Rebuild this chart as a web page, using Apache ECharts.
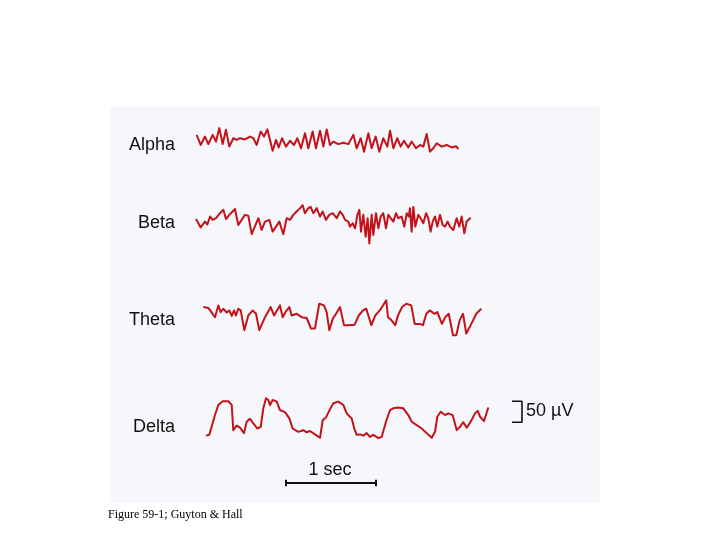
<!DOCTYPE html>
<html><head><meta charset="utf-8">
<script src="https://cdn.jsdelivr.net/npm/echarts/dist/echarts.min.js"></script>
<style>html,body{margin:0;padding:0;background:#fff}#c{width:720px;height:540px}</style>
</head><body><div id="c"></div>
<script>
// EEG rhythm traces: [time (s), potential (µV)]
const rhythmNames = ['Alpha', 'Beta', 'Theta', 'Delta'];
const alphaTrace = [[0.007,17],[0.052,-7],[0.100,13],[0.137,-5],[0.185,17],[0.222,1],[0.259,33],[0.296,-5],[0.333,29],[0.370,-11],[0.415,9],[0.452,5],[0.489,9],[0.544,6],[0.600,13],[0.637,9],[0.674,-7],[0.719,25],[0.756,13],[0.793,30],[0.852,-21],[0.889,5],[0.919,-13],[0.956,9],[1.000,-11],[1.044,3],[1.089,-7],[1.126,9],[1.167,-15],[1.211,21],[1.248,-15],[1.296,25],[1.333,-15],[1.378,27],[1.415,-11],[1.452,30],[1.489,-7],[1.526,1],[1.581,-5],[1.637,-2],[1.693,-5],[1.748,17],[1.785,-15],[1.830,9],[1.867,-23],[1.915,21],[1.952,-15],[1.996,13],[2.037,-23],[2.081,9],[2.126,-11],[2.156,27],[2.193,-15],[2.237,9],[2.274,-11],[2.311,3],[2.359,-13],[2.396,1],[2.444,-15],[2.489,-7],[2.526,-11],[2.563,19],[2.600,-23],[2.637,-15],[2.674,-3],[2.730,-11],[2.785,-7],[2.841,-13],[2.889,-10],[2.915,-17]];
const betaTrace = [[0,7],[0.052,-13],[0.100,1],[0.126,-6],[0.156,13],[0.185,5],[0.222,9],[0.267,21],[0.304,29],[0.333,7],[0.370,17],[0.407,25],[0.433,31],[0.470,-7],[0.507,5],[0.544,17],[0.581,15],[0.619,-29],[0.693,9],[0.730,-19],[0.767,1],[0.815,5],[0.852,-23],[0.889,-11],[0.926,1],[0.970,-29],[1.007,9],[1.044,5],[1.081,17],[1.119,25],[1.156,33],[1.185,40],[1.211,21],[1.248,33],[1.274,36],[1.304,21],[1.341,33],[1.378,13],[1.407,25],[1.444,5],[1.481,17],[1.519,21],[1.563,9],[1.600,25],[1.630,17],[1.656,5],[1.693,1],[1.711,-11],[1.741,-3],[1.767,-15],[1.793,17],[1.815,29],[1.833,-23],[1.859,17],[1.885,-35],[1.907,9],[1.926,-51],[1.952,17],[1.970,-31],[2.000,21],[2.026,-15],[2.052,13],[2.081,21],[2.111,-15],[2.137,17],[2.156,13],[2.193,1],[2.222,21],[2.248,9],[2.285,13],[2.315,-11],[2.341,21],[2.363,13],[2.378,33],[2.396,-23],[2.415,36],[2.437,-11],[2.470,17],[2.496,9],[2.526,-3],[2.556,21],[2.581,9],[2.607,-23],[2.630,1],[2.656,13],[2.681,-11],[2.711,17],[2.741,-7],[2.767,-11],[2.796,1],[2.822,-11],[2.859,-19],[2.896,9],[2.926,-11],[2.952,13],[2.981,-27],[3.007,1],[3.052,10]];
const thetaTrace = [[0.081,26],[0.137,24],[0.211,2],[0.248,30],[0.274,14],[0.303,22],[0.341,13],[0.370,18],[0.397,5],[0.422,18],[0.444,6],[0.470,22],[0.497,18],[0.537,-29],[0.581,6],[0.630,18],[0.667,10],[0.703,-29],[0.767,2],[0.830,26],[0.867,6],[0.933,30],[0.963,2],[1.000,16],[1.037,26],[1.063,6],[1.119,10],[1.174,2],[1.230,0],[1.278,-25],[1.322,-25],[1.370,34],[1.422,30],[1.452,14],[1.481,-29],[1.519,-2],[1.556,10],[1.600,26],[1.644,-17],[1.689,-17],[1.763,-16],[1.808,6],[1.856,18],[1.892,22],[1.948,-17],[1.992,6],[2.041,18],[2.114,42],[2.133,2],[2.170,-5],[2.214,-17],[2.244,6],[2.289,26],[2.337,34],[2.392,30],[2.430,-14],[2.486,-14],[2.522,-17],[2.559,10],[2.597,18],[2.652,10],[2.681,14],[2.733,-14],[2.770,2],[2.808,10],[2.856,-41],[2.892,-41],[2.930,-5],[2.967,10],[3.003,-37],[3.059,-14],[3.114,10],[3.170,22]];
const deltaTrace = [[0.111,-42],[0.148,-40],[0.211,7],[0.248,31],[0.297,40],[0.359,40],[0.397,31],[0.414,-29],[0.452,-18],[0.489,-23],[0.533,-36],[0.563,-9],[0.600,-2],[0.637,-13],[0.681,-25],[0.719,-21],[0.748,23],[0.778,47],[0.803,43],[0.822,31],[0.852,43],[0.897,39],[0.933,19],[0.989,14],[1.037,-1],[1.074,-25],[1.137,-33],[1.192,-29],[1.230,-34],[1.267,-31],[1.322,-39],[1.378,-47],[1.408,-5],[1.444,1],[1.489,21],[1.526,35],[1.581,39],[1.637,31],[1.674,11],[1.730,-1],[1.759,-25],[1.786,-40],[1.822,-39],[1.859,-42],[1.897,-36],[1.933,-45],[1.970,-40],[2.026,-48],[2.063,-45],[2.111,-9],[2.156,19],[2.192,23],[2.248,25],[2.303,23],[2.359,7],[2.397,-9],[2.452,-17],[2.508,-25],[2.563,-36],[2.619,-47],[2.656,-33],[2.681,3],[2.719,15],[2.767,7],[2.803,11],[2.852,7],[2.897,-29],[2.933,-21],[2.970,-10],[3.008,-23],[3.052,-9],[3.100,11],[3.130,17],[3.156,3],[3.200,-7],[3.248,25]];
// calibration bars
const timeBarSeconds = [1, 2];        // "1 sec"
const voltBarMicrovolts = [40, -10];  // "50 µV"
const timeBarLabel = '1 sec';
const voltBarLabel = '50 \u00B5V';
const caption = 'Figure 59-1; Guyton & Hall';

const traces = [alphaTrace, betaTrace, thetaTrace, deltaTrace];

// layout (styles/positions)
const gridLeft = 196, gridWidth = 400, pxPerSec = 90;
const tMax = gridWidth / pxPerSec;
const traceTops = [110.5, 190.5, 286.5, 386.5];
const traceH = 63, vRange = 75;
const labelY = [145, 223, 320, 427];
const red = '#c4121b';

const grids = [], xAxes = [], yAxes = [], series = [];
traces.forEach((tr, i) => {
  grids.push({left: gridLeft, top: traceTops[i], width: gridWidth, height: traceH});
  xAxes.push({type: 'value', gridIndex: i, min: 0, max: tMax, show: false});
  yAxes.push({type: 'value', gridIndex: i, min: -vRange, max: vRange, show: false});
  series.push({type: 'line', name: rhythmNames[i], xAxisIndex: i, yAxisIndex: i, data: tr,
    showSymbol: false, clip: false, lineStyle: {color: red, width: 2, join: 'round'}, silent: true});
});
// volt bracket in delta grid
const vbX1 = 3.622, vbX0 = 3.511;
series.push({type: 'line', xAxisIndex: 3, yAxisIndex: 3, showSymbol: false, clip: false, silent: true,
  data: [[vbX0, voltBarMicrovolts[0]], [vbX1, voltBarMicrovolts[0]], [vbX1, voltBarMicrovolts[1]], [vbX0, voltBarMicrovolts[1]]],
  lineStyle: {color: '#111', width: 1.6}});
// time bar grid
grids.push({left: gridLeft, top: 470, width: gridWidth, height: 26});
xAxes.push({type: 'value', gridIndex: 4, min: 0, max: tMax, show: false});
yAxes.push({type: 'value', gridIndex: 4, min: -1, max: 1, show: false});
series.push({type: 'line', xAxisIndex: 4, yAxisIndex: 4, showSymbol: false, clip: false, silent: true,
  data: [[timeBarSeconds[0], 0.25], [timeBarSeconds[0], -0.25], [timeBarSeconds[0], 0], [timeBarSeconds[1], 0], [timeBarSeconds[1], 0.25], [timeBarSeconds[1], -0.25]],
  lineStyle: {color: '#111', width: 2}});

const font = '"Liberation Sans", Arial, Helvetica, sans-serif';
const graphic = [
  {type: 'rect', shape: {x: 110, y: 107, width: 490, height: 396}, style: {fill: '#f5f7fa'}, z: -10, silent: true}
];
rhythmNames.forEach((n, i) => {
  graphic.push({type: 'text', x: 175, y: labelY[i], style: {text: n, font: '18px ' + font, fill: '#111', textAlign: 'right', textVerticalAlign: 'middle'}});
});
graphic.push({type: 'text', x: 330, y: 470, style: {text: timeBarLabel, font: '18px ' + font, fill: '#111', textAlign: 'center', textVerticalAlign: 'middle'}});
graphic.push({type: 'text', x: 526, y: 411, style: {text: voltBarLabel, font: '18px ' + font, fill: '#111', textAlign: 'left', textVerticalAlign: 'middle'}});
graphic.push({type: 'text', x: 108, y: 515, style: {text: caption, font: '12px "Liberation Serif", "Times New Roman", serif', fill: '#000', textAlign: 'left', textVerticalAlign: 'middle'}});

const chart = echarts.init(document.getElementById('c'), null, {renderer: 'canvas'});
chart.setOption({
  animation: false,
  backgroundColor: '#fff',
  grid: grids, xAxis: xAxes, yAxis: yAxes, series: series, graphic: graphic
});
</script></body></html>
